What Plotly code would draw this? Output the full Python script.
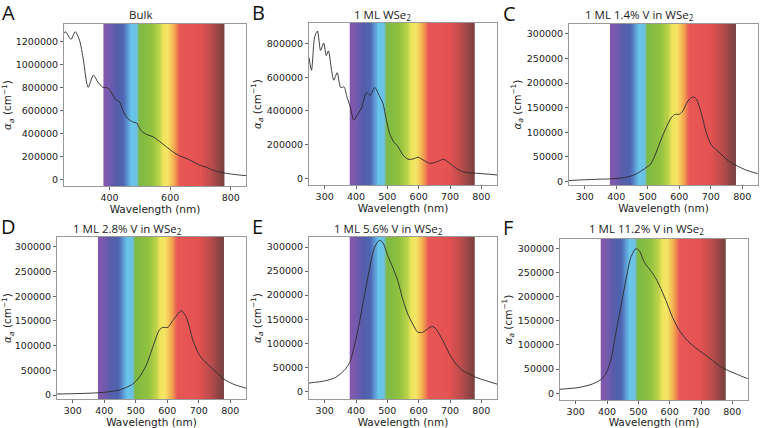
import numpy as np
import plotly.graph_objects as go

# ---------------- data ----------------
wl_A = [250, 255, 273, 287, 301, 314, 325, 330, 347, 361, 378, 389, 398, 411, 422, 433, 444, 460, 477, 490,
        499, 510, 527, 543, 565, 587, 609, 631, 653, 675, 697, 719, 741, 763, 785, 807, 850]
alpha_A = [1272000, 1287000, 1220000, 1287000, 1214000, 1040000, 837000, 802000, 909000, 851000, 802000,
           800000, 790000, 735000, 690000, 677000, 600000, 530000, 500000, 490000, 445000, 410000, 386000,
           372000, 330000, 285000, 240000, 206000, 183000, 154000, 125000, 105000, 81000, 64000, 52000,
           44000, 32000]

wl_B = [250, 258, 268, 277, 287, 297, 305, 312, 322, 329, 340, 351, 362, 371, 380, 393, 403, 417, 433, 446,
        460, 476, 486, 497, 507, 520, 534, 550, 566, 582, 598, 614, 635, 651, 667, 680, 699, 720, 741, 762,
        784, 850]
alpha_B = [717000, 642000, 840000, 875000, 760000, 804000, 730000, 757000, 642000, 583000, 628000, 540000,
           543000, 484000, 435000, 346000, 375000, 415000, 508000, 494000, 540000, 484000, 445000, 346000,
           267000, 217000, 188000, 138000, 113000, 115000, 125000, 109000, 89000, 93000, 105000, 113000,
           89000, 59000, 40000, 32000, 30000, 20000]

wl_C = [247, 291, 345, 380, 419, 451, 473, 494, 510, 526, 542, 558, 574, 585, 601, 611, 627, 643, 654, 670,
        686, 702, 729, 750, 780, 814, 849]
alpha_C = [2000, 3400, 4700, 5400, 7400, 12000, 19000, 28000, 36000, 58000, 85000, 109000, 129000, 136000,
           137000, 143000, 163000, 172000, 168000, 139000, 99000, 74000, 58000, 45000, 33000, 23000, 16000]

wl_D = [247, 383, 447, 490, 511, 533, 554, 575, 586, 602, 618, 645, 661, 682, 703, 735, 757, 780, 810, 850]
alpha_D = [2000, 4700, 10000, 22000, 36000, 60000, 97000, 132000, 137000, 137000, 151000, 171000, 157000,
           110000, 80000, 58000, 46000, 32000, 22000, 14000]

wl_E = [248, 303, 335, 362, 380, 394, 410, 426, 442, 458, 474, 485, 501, 517, 533, 549, 565, 581, 597, 613,
        629, 643, 655, 677, 698, 719, 741, 762, 783, 815, 850]
alpha_E = [17000, 22000, 29000, 43000, 60000, 92000, 140000, 196000, 251000, 297000, 314000, 310000, 283000,
           258000, 231000, 192000, 161000, 140000, 123000, 123000, 130000, 135000, 130000, 106000, 78000,
           57000, 43000, 36000, 29000, 22000, 15000]

wl_F = [247, 311, 353, 380, 396, 412, 428, 444, 460, 476, 492, 503, 519, 535, 551, 567, 588, 609, 631, 652,
        673, 695, 716, 737, 759, 780, 812, 849]
alpha_F = [8000, 12000, 19000, 28000, 40000, 68000, 123000, 178000, 233000, 281000, 299000, 295000, 271000,
           257000, 243000, 223000, 192000, 157000, 130000, 112000, 99000, 88000, 78000, 68000, 57000, 49000,
           40000, 30000]

panel_letters = ["A", "B", "C", "D", "E", "F"]
panel_titles = ["Bulk", "1 ML WSe<sub>2</sub>", "1 ML 1.4% V in WSe<sub>2</sub>",
                "1 ML 2.8% V in WSe<sub>2</sub>", "1 ML 5.6% V in WSe<sub>2</sub>",
                "1 ML 11.2% V in WSe<sub>2</sub>"]

# visible spectrum colour stops (nm -> colour)
spec_nm = [380, 400, 420, 445, 460, 472, 490, 498, 510, 540, 565, 578, 592, 605, 618, 632, 700, 740, 780]
spec_colors = ["#7a4aa6", "#6a4ca8", "#4a50a3", "#3f57aa", "#4f8fd0", "#5cc0ea", "#60bce2", "#74b53a",
               "#78b632", "#88bd30", "#b8d03c", "#eee350", "#f6e35a", "#f5c04a", "#f09040", "#e84848",
               "#e34444", "#b03c3c", "#6a3030"]

# ---------------- layout geometry ----------------
W, H = 760, 428
px_domains = [  # (x0, x1, ytop, ybottom) in pixels
    (64, 246, 24, 186), (309, 497, 23, 185), (569, 758, 24, 185),
    (57, 246, 237, 399), (309, 497, 237, 399), (560, 748, 239, 400),
]
yranges = [(-58000, 1354000), (-40000, 923000), (-7000, 320000),
           (-8000, 320000), (-16000, 321000), (-14000, 319000)]
ydticks = [200000, 200000, 50000, 50000, 50000, 50000]
xdticks = [200, 100, 100, 100, 100, 100]
letter_pos = [(8, 12), (258, 12), (509, 13), (8, 226), (257, 226), (508, 227)]
title_pos = [(140, 15), (383, 15), (639, 15), (127, 229), (388, 229), (646, 229)]

series = [(wl_A, alpha_A), (wl_B, alpha_B), (wl_C, alpha_C),
          (wl_D, alpha_D), (wl_E, alpha_E), (wl_F, alpha_F)]

spec_lo, spec_hi = spec_nm[0], spec_nm[-1]
colorscale = [[(n - spec_lo) / (spec_hi - spec_lo), c] for n, c in zip(spec_nm, spec_colors)]
edges = np.linspace(spec_lo, spec_hi, 401)
centers = (edges[:-1] + edges[1:]) / 2

fig = go.Figure()
annotations = []
layout = {}
tickfont = dict(family="DejaVu Sans", size=9.5, color="#222")

for i, ((wl, al), (x0, x1, yt, yb), yr) in enumerate(zip(series, px_domains, yranges)):
    k = "" if i == 0 else str(i + 1)
    xa, ya = "x" + k, "y" + k
    fig.add_trace(go.Heatmap(
        x=edges, y=[yr[0], yr[1]], z=[centers], zmin=spec_lo, zmax=spec_hi,
        colorscale=colorscale, showscale=False, xaxis=xa, yaxis=ya, hoverinfo="skip", opacity=0.92))
    fig.add_trace(go.Scatter(
        x=wl, y=al, mode="lines", line=dict(color="#2a2a2a", width=0.9, shape="spline", smoothing=0.7),
        xaxis=xa, yaxis=ya, showlegend=False))
    layout["xaxis" + k] = dict(
        domain=[x0 / W, x1 / W], range=[250, 850], anchor=ya, dtick=xdticks[i], tick0=0,
        showgrid=False, zeroline=False, showline=True, linecolor="#999", linewidth=1, mirror=True,
        ticks="outside", ticklen=3, tickcolor="#666", tickfont=tickfont, automargin=False,
        title=dict(text="Wavelength (nm)", font=dict(family="DejaVu Sans", size=10.5, color="#222"), standoff=0))
    layout["yaxis" + k] = dict(
        domain=[1 - yb / H, 1 - yt / H], range=list(yr), anchor=xa, dtick=ydticks[i], tick0=0,
        tickformat="d",
        showgrid=False, zeroline=False, showline=True, linecolor="#999", linewidth=1, mirror=True,
        ticks="outside", ticklen=3, tickcolor="#666", tickfont=tickfont, automargin=False,
        title=dict(text="<i>α<sub>a</sub></i> (cm<sup>−1</sup>)",
                   font=dict(family="DejaVu Sans", size=10.5, color="#222"), standoff=3))
    lx, ly = letter_pos[i]
    annotations.append(dict(text=panel_letters[i], x=lx / W, y=1 - ly / H, xref="paper", yref="paper",
                            showarrow=False, xanchor="center", yanchor="middle",
                            font=dict(family="Open Sans", size=20, color="#111")))
    tx, ty = title_pos[i]
    annotations.append(dict(text=panel_titles[i], x=tx / W, y=1 - ty / H, xref="paper", yref="paper",
                            showarrow=False, xanchor="center", yanchor="middle",
                            font=dict(family="Open Sans", size=11.5, color="#222")))

fig.update_layout(width=W, height=H, margin=dict(l=0, r=0, t=0, b=0),
                  paper_bgcolor="white", plot_bgcolor="white", showlegend=False,
                  annotations=annotations, **layout)
fig.write_html("out.html")
